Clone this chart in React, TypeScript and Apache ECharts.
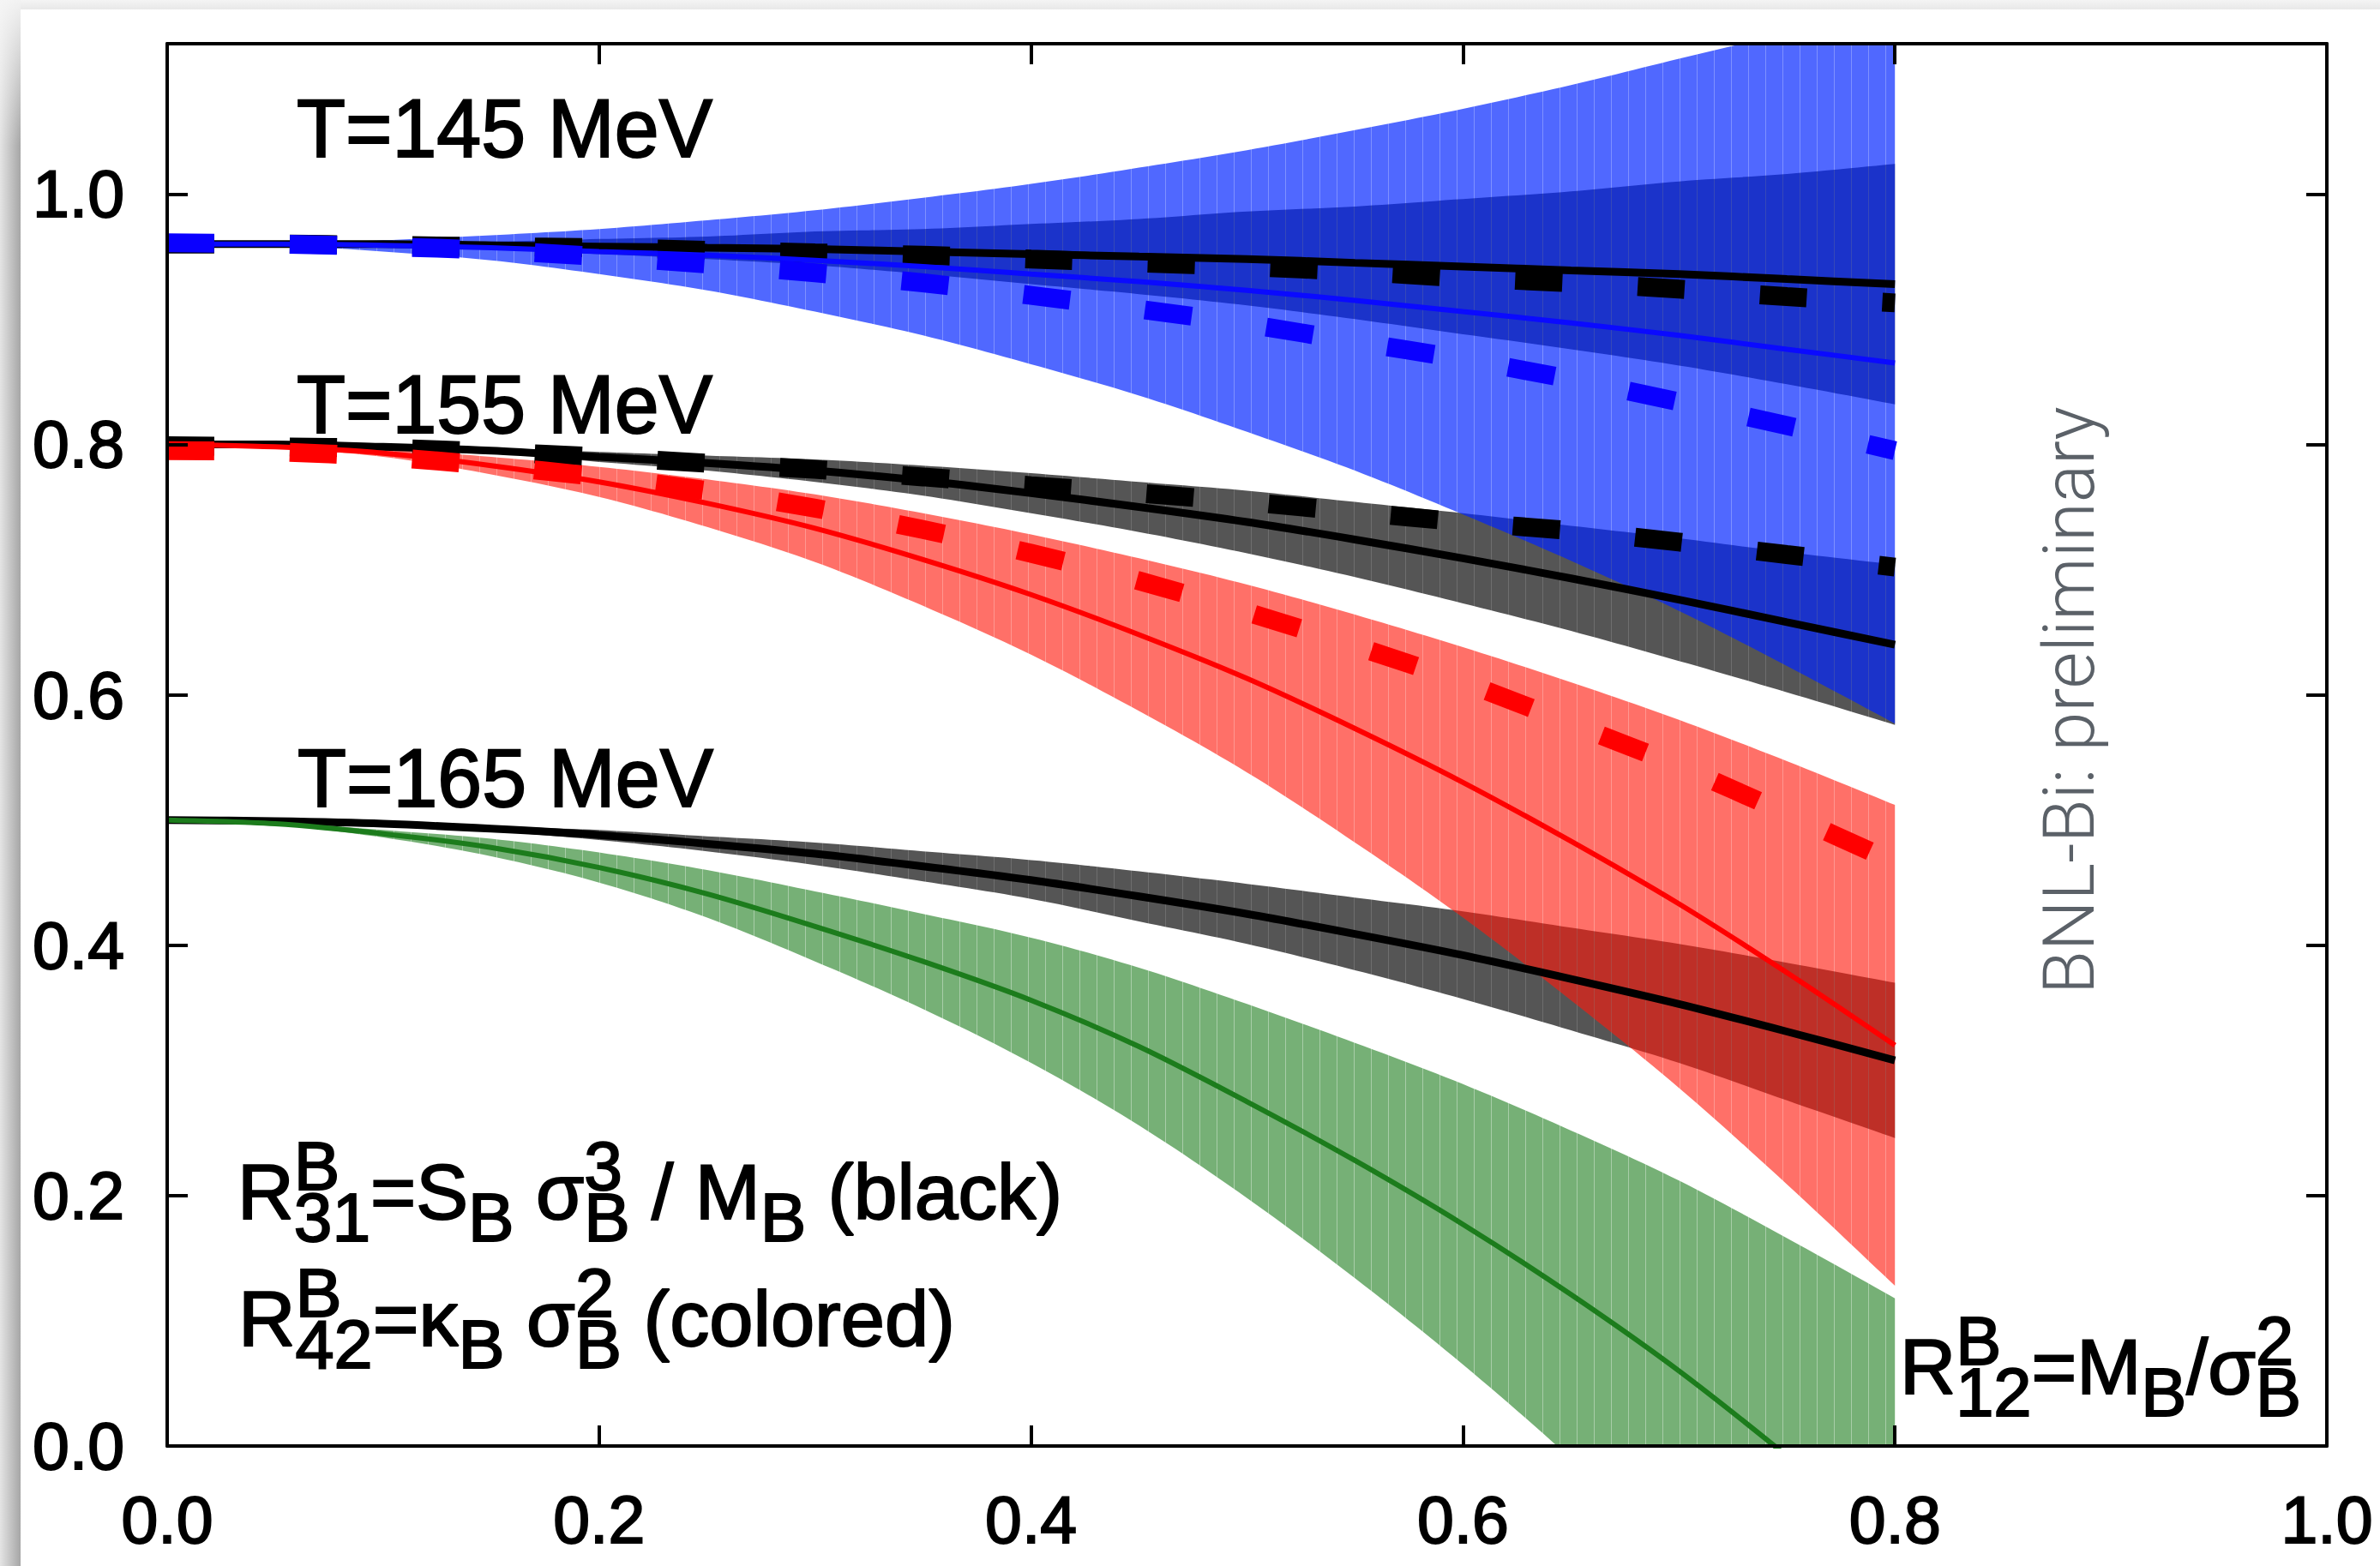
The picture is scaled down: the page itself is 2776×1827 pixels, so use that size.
import React, { useEffect, useRef } from "react";
import * as echarts from "echarts";

const WIDTH = 2776;
const HEIGHT = 1827;

// chemical potential mu_B / T at which every curve is sampled
const muOverT = [0, 0.05, 0.1, 0.15, 0.2, 0.25, 0.3, 0.35, 0.4, 0.45, 0.5, 0.55, 0.6, 0.65, 0.7, 0.75, 0.8];

// ---- T = 145 MeV ----
const r31T145 = [0.96, 0.96, 0.96, 0.959, 0.958, 0.957, 0.956, 0.954, 0.952, 0.95, 0.948, 0.945, 0.942, 0.939, 0.936, 0.932, 0.928];
const r31T145Lo = [0.96, 0.96, 0.959, 0.956, 0.952, 0.948, 0.943, 0.936, 0.928, 0.92, 0.911, 0.9, 0.888, 0.876, 0.863, 0.848, 0.832];
const r31T145Hi = [0.96, 0.96, 0.962, 0.962, 0.964, 0.966, 0.97, 0.972, 0.976, 0.98, 0.986, 0.99, 0.996, 1.002, 1.01, 1.016, 1.024];
const r31T145Dash = [0.96, 0.96, 0.959, 0.958, 0.957, 0.955, 0.953, 0.951, 0.948, 0.945, 0.942, 0.938, 0.933, 0.929, 0.924, 0.918, 0.913];
const r42T145 = [0.96, 0.96, 0.959, 0.957, 0.954, 0.951, 0.947, 0.942, 0.936, 0.93, 0.923, 0.915, 0.906, 0.897, 0.887, 0.876, 0.865];
const r42T145Lo = [0.96, 0.959, 0.954, 0.947, 0.936, 0.923, 0.906, 0.887, 0.864, 0.839, 0.81, 0.779, 0.744, 0.707, 0.667, 0.623, 0.577];
const r42T145Hi = [0.96, 0.961, 0.963, 0.967, 0.972, 0.979, 0.987, 0.997, 1.008, 1.021, 1.035, 1.051, 1.068, 1.087, 1.108, 1.129, 1.153];
const r42T145Dash = [0.961, 0.96, 0.958, 0.955, 0.95, 0.944, 0.937, 0.929, 0.919, 0.908, 0.896, 0.882, 0.868, 0.852, 0.834, 0.815, 0.795];

// ---- T = 155 MeV ----
const r31T155 = [0.8, 0.8, 0.798, 0.795, 0.79, 0.785, 0.779, 0.771, 0.761, 0.75, 0.738, 0.724, 0.709, 0.693, 0.676, 0.658, 0.64];
const r31T155Lo = [0.8, 0.8, 0.797, 0.793, 0.786, 0.779, 0.77, 0.759, 0.745, 0.73, 0.713, 0.694, 0.673, 0.651, 0.627, 0.602, 0.576];
const r31T155Hi = [0.8, 0.8, 0.799, 0.797, 0.794, 0.791, 0.788, 0.783, 0.777, 0.77, 0.763, 0.754, 0.745, 0.735, 0.725, 0.714, 0.704];
const r31T155Dash = [0.799, 0.798, 0.797, 0.794, 0.79, 0.785, 0.78, 0.774, 0.767, 0.761, 0.754, 0.746, 0.738, 0.731, 0.722, 0.712, 0.702];
const r42T155 = [0.8, 0.798, 0.793, 0.783, 0.77, 0.753, 0.733, 0.708, 0.68, 0.648, 0.613, 0.573, 0.53, 0.483, 0.433, 0.378, 0.32];
const r42T155Lo = [0.8, 0.797, 0.79, 0.776, 0.758, 0.734, 0.706, 0.671, 0.632, 0.587, 0.538, 0.482, 0.422, 0.356, 0.286, 0.209, 0.128];
const r42T155Hi = [0.8, 0.799, 0.796, 0.79, 0.782, 0.772, 0.76, 0.745, 0.728, 0.709, 0.688, 0.664, 0.638, 0.61, 0.58, 0.547, 0.512];
const r42T155Dash = [0.795, 0.794, 0.79, 0.783, 0.774, 0.763, 0.749, 0.732, 0.713, 0.691, 0.666, 0.639, 0.61, 0.577, 0.543, 0.505, 0.466];

// ---- T = 165 MeV ----
const r31T165 = [0.5, 0.499, 0.497, 0.493, 0.488, 0.481, 0.473, 0.463, 0.452, 0.439, 0.425, 0.409, 0.392, 0.373, 0.353, 0.331, 0.308];
const r31T165Lo = [0.5, 0.499, 0.496, 0.491, 0.484, 0.475, 0.464, 0.451, 0.437, 0.419, 0.401, 0.38, 0.357, 0.332, 0.306, 0.276, 0.246];
const r31T165Hi = [0.5, 0.499, 0.498, 0.495, 0.492, 0.487, 0.482, 0.475, 0.468, 0.459, 0.449, 0.438, 0.427, 0.414, 0.401, 0.386, 0.37];
const r42T165 = [0.5, 0.497, 0.489, 0.478, 0.462, 0.441, 0.415, 0.387, 0.356, 0.319, 0.275, 0.228, 0.177, 0.121, 0.06, -0.008, -0.08];
const r42T165Lo = [0.5, 0.496, 0.486, 0.471, 0.45, 0.422, 0.387, 0.349, 0.306, 0.256, 0.198, 0.134, 0.065, -0.01, -0.092, -0.182, -0.278];
const r42T165Hi = [0.5, 0.498, 0.492, 0.485, 0.474, 0.46, 0.443, 0.425, 0.406, 0.382, 0.353, 0.322, 0.289, 0.252, 0.212, 0.166, 0.118];

// axes
const xMin = 0;
const xMax = 1.0;
const xStep = 0.2;
const yMin = 0;
const yMax = 1.12;
const yStep = 0.2;

const FONT = '"Liberation Sans", Arial, sans-serif';
const STRIPE = 20;

type Piece = [string, string, string?];

let measureCtx: CanvasRenderingContext2D | null = null;
function measure(s: string, size: number, family = FONT, weight = "normal"): number {
  if (!measureCtx) measureCtx = document.createElement("canvas").getContext("2d");
  measureCtx!.font = `${weight} ${size}px ${family}`;
  return measureCtx!.measureText(s).width;
}

// filled band with the thin lighter seams of a strip-rendered polygon
function stripedFill(r: number, g: number, b: number, a: number, seamA: number) {
  const c = document.createElement("canvas");
  c.width = STRIPE;
  c.height = 8;
  const ctx = c.getContext("2d")!;
  ctx.fillStyle = `rgba(${r},${g},${b},${a})`;
  ctx.fillRect(0, 0, STRIPE - 1, 8);
  ctx.fillStyle = `rgba(${r},${g},${b},${seamA})`;
  ctx.fillRect(STRIPE - 1, 0, 1, 8);
  return { image: c, repeat: "repeat", imageWidth: STRIPE, imageHeight: 8 };
}

// Catmull-Rom spline through pixel points, so band edges are drawn smooth
function spline(p: number[][], seg = 12): number[][] {
  const out: number[][] = [];
  const n = p.length;
  for (let i = 0; i < n - 1; i++) {
    const p0 = p[Math.max(i - 1, 0)];
    const p1 = p[i];
    const p2 = p[i + 1];
    const p3 = p[Math.min(i + 2, n - 1)];
    for (let s = 0; s < seg; s++) {
      const t = s / seg;
      const t2 = t * t;
      const t3 = t2 * t;
      out.push(
        [0, 1].map(
          (k) =>
            0.5 *
            (2 * p1[k] +
              (-p0[k] + p2[k]) * t +
              (2 * p0[k] - 5 * p1[k] + 4 * p2[k] - p3[k]) * t2 +
              (-p0[k] + 3 * p1[k] - 3 * p2[k] + p3[k]) * t3)
        )
      );
    }
  }
  out.push(p[n - 1]);
  return out;
}

// text with stacked super/subscripts, laid out piece by piece
function mathText(pieces: Piece[], left: number, baseline: number, size: number, width: number) {
  const small = size * 0.88;
  const up = size * 0.38;
  const down = size * 0.29;
  const children: any[] = [];
  let cx = 0;
  const put = (s: string, x: number, base: number, fs: number) =>
    children.push({
      type: "text",
      x,
      y: base - 0.3465 * fs,
      style: {
        text: s,
        font: `${fs}px ${FONT}`,
        fill: "#000",
        stroke: "#000",
        lineWidth: 2,
        align: "left",
        verticalAlign: "middle",
        textAlign: "left",
        textVerticalAlign: "middle",
      },
    });
  for (const [kind, a, b] of pieces) {
    if (kind === "n") {
      put(a, cx, 0, size);
      cx += measure(a, size);
    } else if (kind === "sub") {
      put(a, cx, down, small);
      cx += measure(a, small);
    } else {
      put(a, cx, -up, small);
      put(b as string, cx, down, small);
      cx += Math.max(measure(a, small), measure(b as string, small));
    }
  }
  return { type: "group", x: left, y: baseline, scaleX: width / cx, children, z: 100, silent: true };
}

const pts = (ys: number[]) => muOverT.map((x, i) => [x, ys[i]]);

function band(id: string, lo: number[], hi: number[], fill: any) {
  return {
    type: "custom",
    name: id,
    coordinateSystem: "cartesian2d",
    data: muOverT.map((x, i) => [x, lo[i], hi[i]]),
    encode: { x: 0, y: [1, 2] },
    clip: true,
    silent: true,
    z: 2,
    renderItem: (params: any, api: any) => {
      if (params.dataIndex !== 0) return null; // the whole band is one polygon
      const up = muOverT.map((x, i) => api.coord([x, hi[i]]));
      const dn = muOverT.map((x, i) => api.coord([x, lo[i]]));
      return {
        type: "polygon",
        shape: { points: [...spline(up), ...spline(dn).reverse()] },
        style: { fill },
      };
    },
  };
}

function curve(name: string, ys: number[], color: string, width: number, dashed = false) {
  return {
    type: "line",
    name,
    data: pts(ys),
    symbol: "none",
    smooth: 0.3,
    silent: true,
    z: 3,
    lineStyle: { color, width, type: dashed ? [55, 88] : "solid", cap: "butt" },
  };
}

function axisCommon(showLabels: boolean) {
  return {
    axisLine: { show: true, onZero: false, lineStyle: { color: "#000", width: 4 } },
    axisTick: { show: true, inside: true, length: 24, lineStyle: { color: "#000", width: 4 } },
    splitLine: { show: false },
    z: 5,
    axisLabel: {
      show: showLabels,
      color: "#000",
      fontFamily: FONT,
      fontSize: 77,
      textBorderColor: "#000",
      textBorderWidth: 2,
    },
  };
}

export default function App() {
  const ref = useRef<HTMLDivElement>(null);

  useEffect(() => {
    if (!ref.current) return;
    const chart = echarts.init(ref.current, undefined, { renderer: "svg" });

    const gray = stripedFill(0, 0, 0, 0.667, 0.57);
    const blue = stripedFill(0, 35, 255, 0.686, 0.5);
    const red = stripedFill(255, 24, 11, 0.618, 0.45);
    const green = stripedFill(0, 108, 0, 0.537, 0.34);

    const isMajor = (v: number) => Math.abs(v / yStep - Math.round(v / yStep)) < 1e-6;

    const xBase = { type: "value", min: xMin, max: xMax, interval: xStep };
    const yBase = { type: "value", min: yMin, max: yMax, interval: yStep };

    const bnl = "BNL-Bi: preliminary";
    const bnlSize = 83;
    const bnlFamily = 'Roboto, "Open Sans", sans-serif';
    const bnlWidth = measure(bnl, bnlSize, bnlFamily, "300");

    chart.setOption({
      animation: false,
      grid: { left: 195, right: 62, top: 51, bottom: 140, containLabel: false },
      xAxis: [
        {
          ...xBase,
          ...axisCommon(true),
          position: "bottom",
          axisLabel: { ...axisCommon(true).axisLabel, margin: 47, formatter: (v: number) => v.toFixed(1) },
        },
        { ...xBase, ...axisCommon(false), position: "top" },
      ],
      yAxis: [
        {
          ...yBase,
          ...axisCommon(true),
          position: "left",
          axisLabel: {
            ...axisCommon(true).axisLabel,
            margin: 50,
            formatter: (v: number) => (isMajor(v) ? v.toFixed(1) : ""),
          },
        },
        { ...yBase, ...axisCommon(false), position: "right" },
      ],
      series: [
        band("r31-145", r31T145Lo, r31T145Hi, gray),
        band("r31-155", r31T155Lo, r31T155Hi, gray),
        band("r31-165", r31T165Lo, r31T165Hi, gray),
        band("r42-145", r42T145Lo, r42T145Hi, blue),
        band("r42-155", r42T155Lo, r42T155Hi, red),
        band("r42-165", r42T165Lo, r42T165Hi, green),
        curve("R31 145", r31T145, "#000", 9),
        curve("R31 155", r31T155, "#000", 9),
        curve("R31 165", r31T165, "#000", 9),
        curve("R31 145 dashed", r31T145Dash, "#000", 22, true),
        curve("R31 155 dashed", r31T155Dash, "#000", 22, true),
        curve("R42 145", r42T145, "#0a0aff", 6),
        curve("R42 155", r42T155, "#ff0000", 6),
        curve("R42 165", r42T165, "#1c7c1c", 6),
        curve("R42 145 dashed", r42T145Dash, "#0a00ff", 22, true),
        curve("R42 155 dashed", r42T155Dash, "#ff0000", 22, true),
      ],
      graphic: [
        // shaded page edges
        {
          type: "rect",
          silent: true,
          z: -10,
          shape: { x: 0, y: 0, width: WIDTH, height: 11 },
          style: {
            fill: new echarts.graphic.LinearGradient(0, 0, 0, 1, [
              { offset: 0, color: "#f4f4f4" },
              { offset: 1, color: "#e8e8e8" },
            ]),
          },
        },
        {
          type: "rect",
          silent: true,
          z: -9,
          shape: { x: 0, y: 0, width: 24, height: HEIGHT },
          style: {
            fill: new echarts.graphic.LinearGradient(0, 0, 1, 0, [
              { offset: 0, color: "#e4e4e4" },
              { offset: 1, color: "#a6a6a6" },
            ]),
          },
        },
        {
          type: "rect",
          silent: true,
          z: -8,
          shape: { x: 0, y: 0, width: 24, height: 170 },
          style: {
            fill: new echarts.graphic.LinearGradient(0, 0, 0, 1, [
              { offset: 0, color: "rgba(246,246,246,0.95)" },
              { offset: 1, color: "rgba(246,246,246,0)" },
            ]),
          },
        },
        mathText([["n", "T=145 MeV"]], 346, 183, 96, 485),
        mathText([["n", "T=155 MeV"]], 346, 505, 96, 485),
        mathText([["n", "T=165 MeV"]], 347, 941, 96, 485),
        mathText(
          [
            ["n", "R"],
            ["ss", "B", "31"],
            ["n", "=S"],
            ["sub", "B"],
            ["n", " σ"],
            ["ss", "3", "B"],
            ["n", " / M"],
            ["sub", "B"],
            ["n", " (black)"],
          ],
          277,
          1422,
          90,
          962
        ),
        mathText(
          [
            ["n", "R"],
            ["ss", "B", "42"],
            ["n", "=κ"],
            ["sub", "B"],
            ["n", " σ"],
            ["ss", "2", "B"],
            ["n", " (colored)"],
          ],
          278,
          1570,
          90,
          836
        ),
        mathText(
          [
            ["n", "R"],
            ["ss", "B", "12"],
            ["n", "=M"],
            ["sub", "B"],
            ["n", "/σ"],
            ["ss", "2", "B"],
          ],
          2216,
          1626,
          90,
          468
        ),
        {
          type: "text",
          silent: true,
          z: 100,
          x: 2413,
          y: 817,
          rotation: Math.PI / 2,
          scaleX: 686 / bnlWidth,
          style: {
            text: bnl,
            font: `300 ${bnlSize}px ${bnlFamily}`,
            fill: "#5b6168",
            align: "center",
            verticalAlign: "middle",
            textAlign: "center",
            textVerticalAlign: "middle",
          },
        },
      ],
    });

    return () => chart.dispose();
  }, []);

  return (
    <div
      ref={ref}
      style={{ position: "fixed", left: 0, top: 0, width: WIDTH, height: HEIGHT, background: "#fff" }}
    />
  );
}
